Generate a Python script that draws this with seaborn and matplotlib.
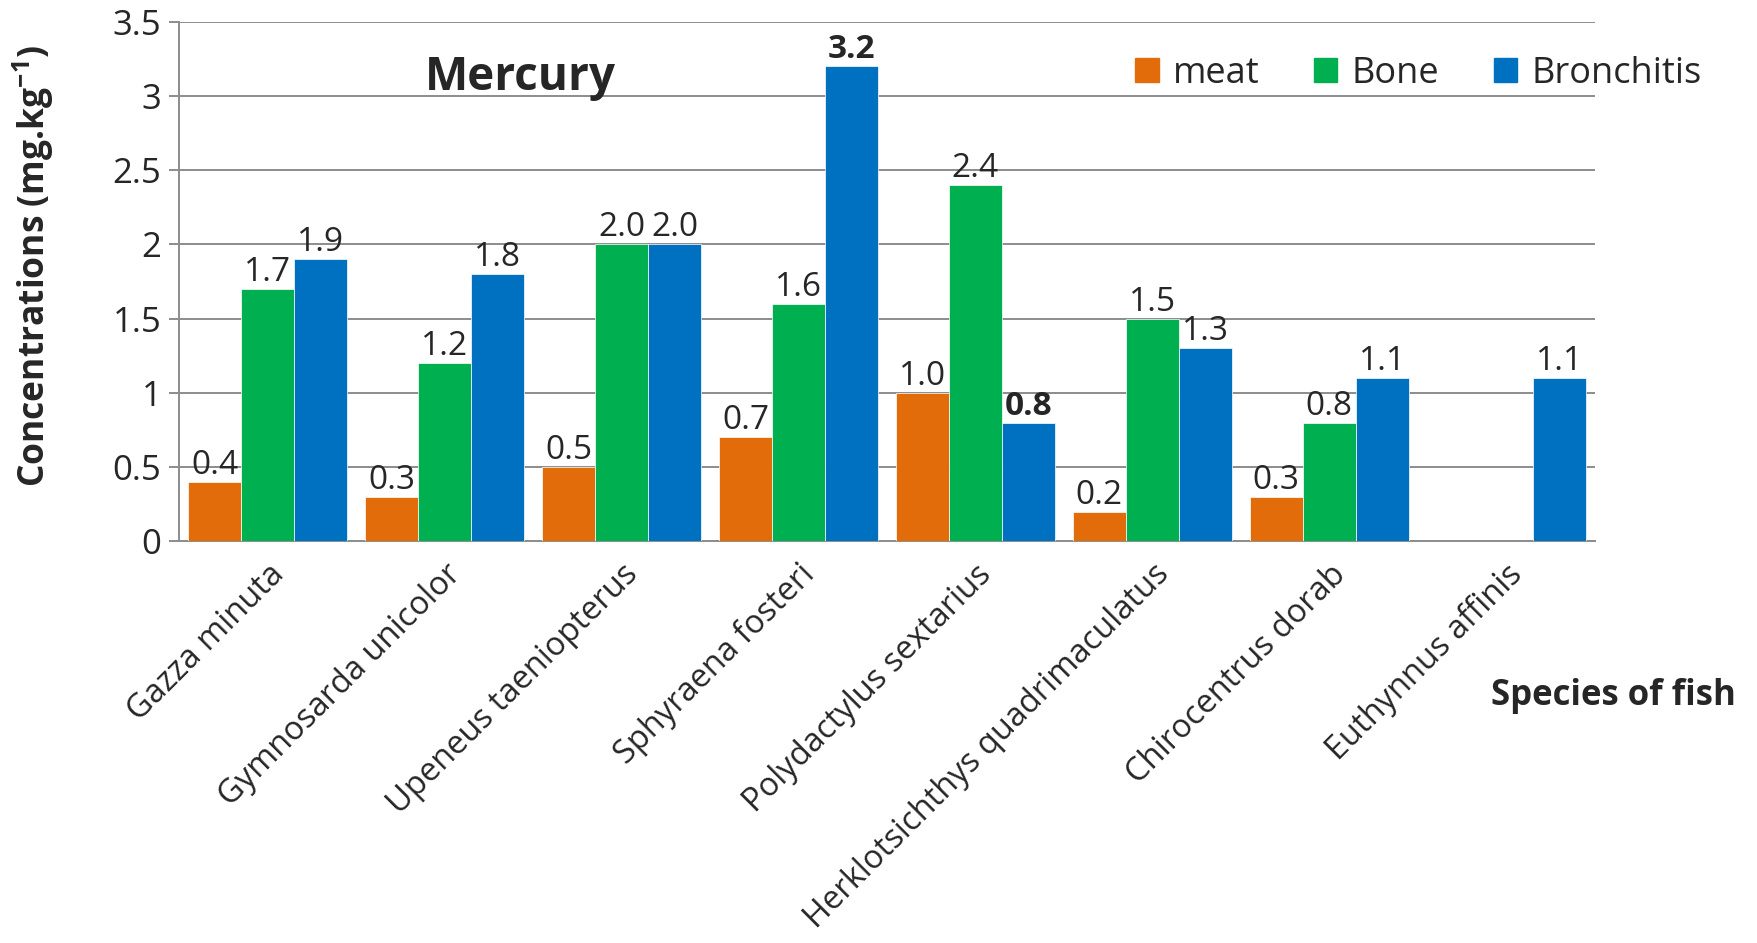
import numpy as np
import pandas as pd
import matplotlib
matplotlib.use("Agg")
import matplotlib.pyplot as plt
from matplotlib.ticker import FixedLocator, FuncFormatter
import seaborn as sns

species = ["Gazza minuta", "Gymnosarda unicolor", "Upeneus taeniopterus",
           "Sphyraena fosteri", "Polydactylus sextarius",
           "Herklotsichthys quadrimaculatus", "Chirocentrus dorab", "Euthynnus affinis"]
parts = ["meat", "Bone", "Bronchitis"]
meat = [0.4, 0.3, 0.5, 0.7, 1.0, 0.2, 0.3, np.nan]
bone = [1.7, 1.2, 2.0, 1.6, 2.4, 1.5, 0.8, np.nan]
bronchitis = [1.9, 1.8, 2.0, 3.2, 0.8, 1.3, 1.1, 1.1]
bold_labels = {("Sphyraena fosteri", "Bronchitis"), ("Polydactylus sextarius", "Bronchitis")}
colors = ["#E36C0A", "#00B050", "#0070C0"]

df = pd.DataFrame({
    "species": species * 3,
    "part": [p for p in parts for _ in species],
    "value": meat + bone + bronchitis,
})

sns.set_style("white")
plt.rcParams["font.family"] = ["Open Sans", "DejaVu Sans"]
plt.rcParams["mathtext.fontset"] = "custom"
plt.rcParams["mathtext.rm"] = "Open Sans"
plt.rcParams["mathtext.bf"] = "Open Sans:bold"

fig = plt.figure(figsize=(17.58, 9.43), dpi=100)
ax = fig.add_axes([0.102, 0.426, 0.805, 0.551])

sns.barplot(data=df, x="species", y="value", hue="part", hue_order=parts,
            order=species, palette=colors, saturation=1, width=0.9,
            edgecolor="white", linewidth=0.5, ax=ax, legend=False, zorder=3)

# data labels
for container, part in zip(ax.containers, parts):
    vals = df[df.part == part]["value"].tolist()
    for bar, sp, v in zip(container, species, vals):
        if np.isnan(v):
            continue
        weight = "bold" if (sp, part) in bold_labels else "normal"
        ax.annotate(f"{v:.1f}", (bar.get_x() + bar.get_width() / 2, v),
                    xytext=(0, 0), textcoords="offset points",
                    ha="center", va="bottom", fontsize=24, fontweight=weight, zorder=5)

ax.set_ylim(0, 3.5)
ax.set_xlim(-0.5, len(species) - 0.5)
ax.set_yticks(np.arange(0, 3.51, 0.5))
ax.yaxis.set_major_formatter(FuncFormatter(lambda v, p: f"{v:g}"))
ax.grid(axis="y", color="#8C8C8C", linewidth=1.4, zorder=0)
ax.grid(axis="x", visible=False)
for s in ["top", "right"]:
    ax.spines[s].set_visible(False)
for s in ["left", "bottom"]:
    ax.spines[s].set_color("#8C8C8C")
    ax.spines[s].set_linewidth(1.4)

ax.xaxis.set_minor_locator(FixedLocator(np.arange(-0.5, len(species), 1.0)))
ax.tick_params(axis="x", which="major", length=0, pad=12)
ax.tick_params(axis="x", which="minor", length=8, width=1.4, color="#8C8C8C", direction="out")
ax.tick_params(axis="y", length=7, width=1.4, color="#8C8C8C", direction="out",
               left=True, labelsize=25, pad=6)
ax.set_xticks(range(len(species)))
ax.set_xticklabels(species, rotation=45, ha="right", rotation_mode="anchor", fontsize=23.5)
ax.set_xlabel("")
ax.set_ylabel(r"Concentrations (mg.kg$^{\mathbf{-1}}$)", fontsize=25.5, fontweight="bold")
ax.yaxis.set_label_coords(-0.087, 0.53)

fig.text(0.296, 0.918, "Mercury", fontsize=33, fontweight="bold", ha="center", va="center")
fig.text(0.848, 0.262, "Species of fish", fontsize=25, fontweight="bold", ha="left", va="center")

handles = [plt.Rectangle((0, 0), 1, 1, color=c) for c in colors]
fig.legend(handles, parts, loc="center right", bbox_to_anchor=(0.968, 0.922),
           ncol=3, frameon=False, fontsize=26, handlelength=0.65, handleheight=0.65,
           handletextpad=0.4, columnspacing=1.5, borderpad=0, borderaxespad=0)

fig.savefig("out.png", dpi=100)
